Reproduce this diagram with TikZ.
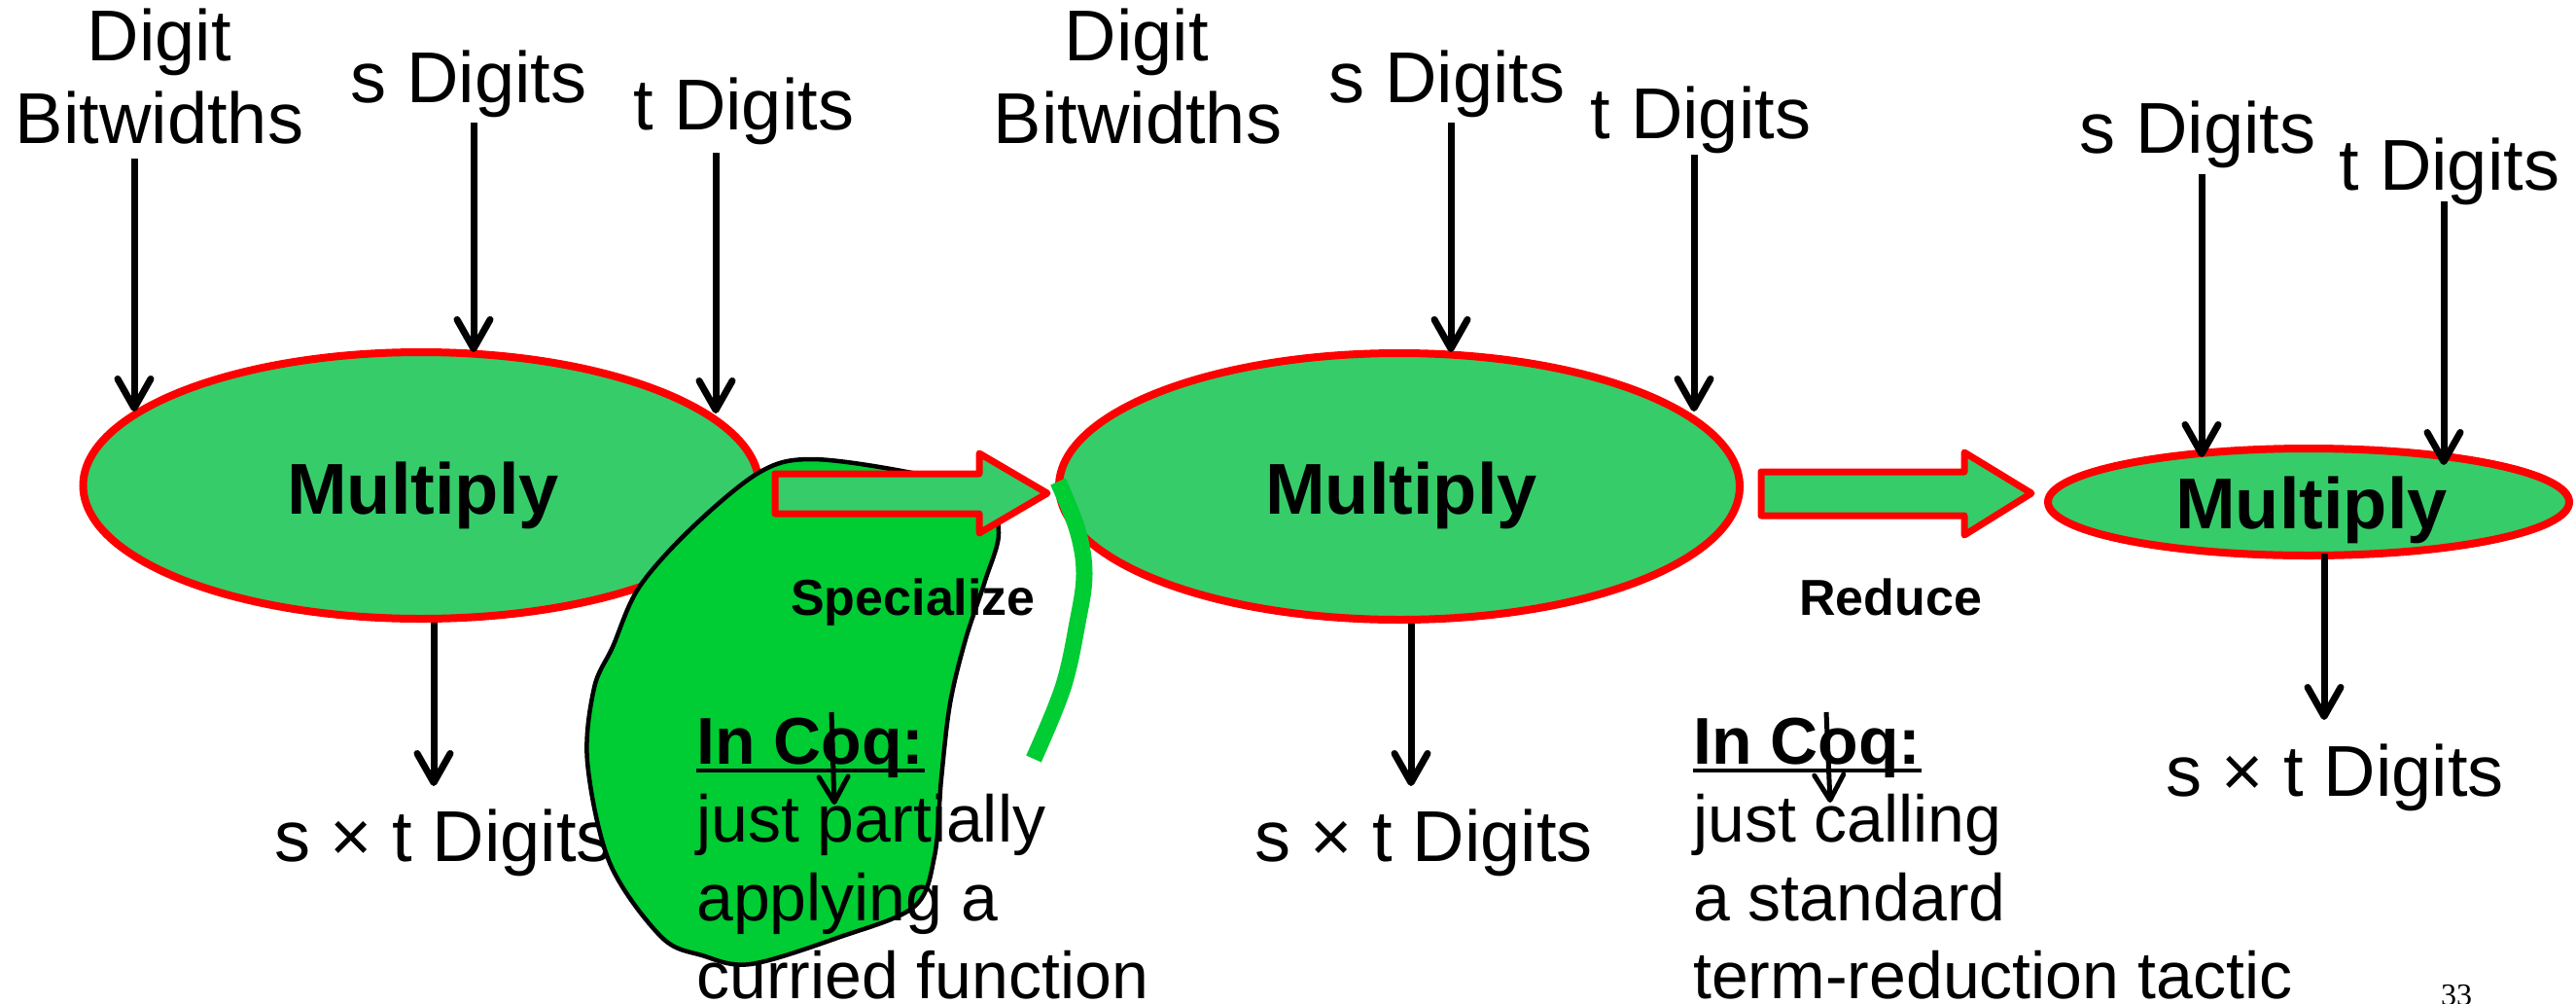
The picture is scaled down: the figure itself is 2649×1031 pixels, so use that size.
\documentclass[tikz,border=0pt]{standalone}
\usepackage{fontspec}
\setmainfont{Liberation Sans}
\newfontfamily\pagenumfont{Liberation Serif}
\usetikzlibrary{arrows.meta,shapes.geometric}
\definecolor{opgreen}{RGB}{54,204,106}
\definecolor{blobgreen}{RGB}{0,204,51}
\definecolor{opred}{RGB}{255,0,0}

\begin{document}
\begin{tikzpicture}[x=1pt,y=-1pt,
  op/.style={ellipse, draw=opred, fill=opgreen, line width=8pt, inner sep=0pt},
  lab/.style={font=\fontsize{74pt}{85pt}\selectfont, inner sep=0pt, anchor=base},
  optext/.style={font=\bfseries\fontsize{74pt}{85pt}\selectfont, inner sep=0pt, anchor=base},
  steplab/.style={font=\bfseries\fontsize{52pt}{60pt}\selectfont, inner sep=0pt, anchor=base},
  note/.style={font=\fontsize{68pt}{80pt}\selectfont, inner sep=0pt, anchor=base west},
  notehead/.style={note, font=\bfseries\fontsize{68pt}{80pt}\selectfont},
  wire/.style={line width=7pt, -{Straight Barb[length=30pt,width=34pt,round]}},
  smallwire/.style={line width=5pt, -{Straight Barb[length=26pt,width=30pt,round]}},
  bigarrow/.style={draw=opred, fill=opgreen, line width=7pt, line join=round},
]
\useasboundingbox (0,0) rectangle (2649,1031);

% the three Multiply stages
\node[op, minimum width=695pt, minimum height=274pt] (E1) at (433,499) {};
\node[op, minimum width=700pt, minimum height=274pt] (E2) at (1439,500) {};
\node[op, minimum width=536pt, minimum height=110pt] (E3) at (2374,516) {};
\node[optext] (m1) at (435,528) {Multiply};
\node[optext] (m2) at (1441,528) {Multiply};
\node[optext] (m3) at (2377,543) {Multiply};

% inputs
\node[lab] (bw1a) at (164,62) {Digit};
\node[lab] (bw1b) at (164,147) {Bitwidths};
\node[lab] (s1) at (482,105) {s Digits};
\node[lab] (t1) at (765,133) {t Digits};
\node[lab] (bw2a) at (1169,62) {Digit};
\node[lab] (bw2b) at (1170,147) {Bitwidths};
\node[lab] (s2) at (1488,105) {s Digits};
\node[lab] (t2) at (1749,142) {t Digits};
\node[lab] (s3) at (2260,157) {s Digits};
\node[lab] (t3) at (2519,195) {t Digits};

% outputs
\node[lab] (o1) at (456,885) {s × t Digits};
\node[lab] (o2) at (1464,885) {s × t Digits};
\node[lab] (o3) at (2401,818) {s × t Digits};

% where the wires meet the stages and the outputs
\coordinate (bw1in) at (138,423);
\coordinate (s1in) at (487,362);
\coordinate (t1in) at (736,425);
\coordinate (s2in) at (1492,362);
\coordinate (t2in) at (1742,423);
\coordinate (s3in) at (2264,470);
\coordinate (t3in) at (2513,478);
\coordinate (o1in) at (446,808);
\coordinate (o2in) at (1451,808);
\coordinate (o3in) at (2390,740);

\draw[wire] ([xshift=-26pt,yshift=-16pt]bw1b.base) -- (bw1in);
\draw[wire] ([xshift=5pt,yshift=-21pt]s1.base) -- (s1in);
\draw[wire] ([xshift=-29pt,yshift=-24pt]t1.base) -- (t1in);
\draw[wire] ([xshift=4pt,yshift=-21pt]s2.base) -- (s2in);
\draw[wire] ([xshift=-7pt,yshift=-17pt]t2.base) -- (t2in);
\draw[wire] ([xshift=4pt,yshift=-22pt]s3.base) -- (s3in);
\draw[wire] ([xshift=-6pt,yshift=-12pt]t3.base) -- (t3in);
\draw[wire] (E1.south -| o1in) -- (o1in);
\draw[wire] (E2.south -| o2in) -- (o2in);
\draw[wire] ([yshift=6pt]E3.south -| o3in) -- (o3in);

% hand-drawn green blob
\draw[fill=blobgreen, line width=4.5pt, line join=round]
  plot[smooth cycle, tension=0.55] coordinates {
    (833,472) (927,484) (1010,505) (1027,547) (1013,597) (993,657)
    (977,723) (968,800) (961,880) (940,932) (864,963) (772,991)
    (722,982) (680,963) (627,887) (604,783) (611,707) (630,665)
    (657,604) (711,543) (780,486)};

% transformation arrows
\draw[bigarrow] (797,487) -- (1007,487) -- (1007,466) -- (1077,507)
  -- (1007,548) -- (1007,528) -- (797,528) -- cycle;
\draw[bigarrow] (1811,485) -- (2020,485) -- (2020,465) -- (2089,507)
  -- (2020,550) -- (2020,530) -- (1811,530) -- cycle;

% green stroke
\draw[blobgreen, line width=17pt]
  plot[smooth, tension=0.6] coordinates {
    (1088,495) (1108,545) (1115,590) (1108,640) (1093,707) (1063,780)};

\node[steplab] (spec) at (939,632) {Specialize};
\node[steplab] (red) at (1944,632) {Reduce};

% notes
\node[notehead] (c1h) at (716,785) {In Coq:};
\draw[line width=4.5pt] ([yshift=-7pt]c1h.base west) -- ([yshift=-7pt]c1h.base east);
\node[note] (c1a) at (716,865) {just partially};
\node[note] (c1b) at (716,946) {applying a};
\node[note] (c1c) at (716,1026) {curried function};

\node[notehead] (c2h) at (1741,785) {In Coq:};
\draw[line width=4.5pt] ([yshift=-7pt]c2h.base west) -- ([yshift=-7pt]c2h.base east);
\node[note] (c2a) at (1741,865) {just calling};
\node[note] (c2b) at (1741,946) {a standard};
\node[note] (c2c) at (1741,1026) {term-reduction tactic};

\coordinate (k1top) at (855,732);
\coordinate (k1tip) at (858,827);
\coordinate (k2top) at (1878,732);
\coordinate (k2tip) at (1882,825);
\draw[smallwire] (k1top) -- (k1tip);
\draw[smallwire] (k2top) -- (k2tip);

\node[font=\pagenumfont\fontsize{32pt}{36pt}\selectfont, anchor=base, inner sep=0pt] (pg) at (2526,1033) {33};
\end{tikzpicture}
\end{document}
